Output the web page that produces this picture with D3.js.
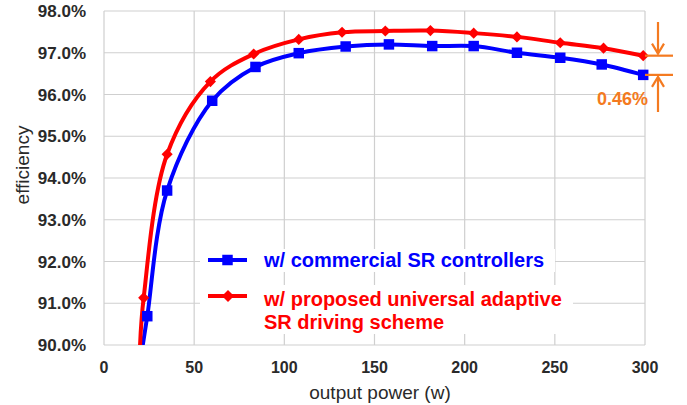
<!DOCTYPE html>
<html>
<head>
<meta charset="utf-8">
<script src="https://cdn.jsdelivr.net/npm/d3@7"></script>
<style>
  body { margin: 0; background: #fff; }
  svg { display: block; font-family: "Liberation Sans", Arial, sans-serif; }
</style>
</head>
<body>
<svg id="chart" width="687" height="405"></svg>
<script>
var width = 687,
   height = 405;

// data (first entry of each series is where the curve leaves the bottom edge)
var bluePower = [21.5, 24, 35, 60, 84, 108, 134, 158, 182, 205, 229, 253, 276, 299];
var blueEff = [90.0, 90.69, 93.7, 95.85, 96.66, 96.99, 97.15, 97.2, 97.16, 97.16, 97.0, 96.88, 96.72, 96.47];
var redPower = [20, 22, 35, 59, 83, 108, 132, 156, 181, 205, 229, 253, 277, 299];
var redEff = [90.0, 91.13, 94.57, 96.31, 96.97, 97.32, 97.49, 97.52, 97.53, 97.47, 97.38, 97.24, 97.11, 96.93];

var xTicks = [0, 50, 100, 150, 200, 250, 300];
var yTicks = [90, 91, 92, 93, 94, 95, 96, 97, 98];

var blueLabel = ["w/ commercial SR controllers"];
var redLabel = ["w/ proposed universal adaptive", "SR driving scheme"];
var gapLabel = "0.46%";

var orange = "#f47a20";

//Scales
var x = d3.scaleLinear().domain([0, 300]).range([104, 645]);
var y = d3.scaleLinear().domain([90, 98]).range([345, 11]);

var svg = d3.select("svg#chart");

svg.append("defs")
   .append("clipPath")
   .attr("id", "plotclip")
   .append("rect")
   .attr("x", x(0))
   .attr("y", y(98) - 10)
   .attr("width", x(300) - x(0) + 10)
   .attr("height", y(90) - y(98) + 10);

//Grid
svg.selectAll("line.hgrid")
   .data(yTicks)
   .enter()
   .append("line")
   .attr("class", "hgrid")
   .attr("x1", x(0))
   .attr("x2", x(300))
   .attr("y1", (d) => y(d))
   .attr("y2", (d) => y(d))
   .attr("stroke", "#cfcfcf")
   .attr("stroke-width", 1.2);

svg.selectAll("line.vgrid")
   .data(xTicks)
   .enter()
   .append("line")
   .attr("class", "vgrid")
   .attr("x1", (d) => x(d))
   .attr("x2", (d) => x(d))
   .attr("y1", y(98))
   .attr("y2", y(90))
   .attr("stroke", "#cfcfcf")
   .attr("stroke-width", 1.2);

//Tick labels
svg.selectAll("text.ytick")
   .data(yTicks)
   .enter()
   .append("text")
   .attr("class", "ytick")
   .attr("x", 86)
   .attr("y", (d) => y(d))
   .attr("dy", "0.36em")
   .attr("text-anchor", "end")
   .attr("font-size", 17)
   .attr("font-weight", "bold")
   .attr("fill", "#2a2a2a")
   .text((d) => d.toFixed(1) + "%");

svg.selectAll("text.xtick")
   .data(xTicks)
   .enter()
   .append("text")
   .attr("class", "xtick")
   .attr("x", (d) => x(d))
   .attr("y", 367)
   .attr("dy", "0.36em")
   .attr("text-anchor", "middle")
   .attr("font-size", 16)
   .attr("font-weight", "bold")
   .attr("fill", "#2a2a2a")
   .text((d) => d);

//Axis titles
svg.append("text")
   .attr("x", 380)
   .attr("y", 392)
   .attr("dy", "0.36em")
   .attr("text-anchor", "middle")
   .attr("font-size", 19)
   .attr("fill", "#2a2a2a")
   .text("output power (w)");

svg.append("text")
   .attr("transform", "translate(22,165) rotate(-90)")
   .attr("dy", "0.36em")
   .attr("text-anchor", "middle")
   .attr("font-size", 19)
   .attr("fill", "#2a2a2a")
   .text("efficiency");

//Series
var line = d3
   .line()
   .x((d) => x(d[0]))
   .y((d) => y(d[1]))
   .curve(d3.curveCatmullRom.alpha(0.5));

var blueData = bluePower.map((p, i) => [p, blueEff[i]]);
var redData = redPower.map((p, i) => [p, redEff[i]]);

var plot = svg.append("g").attr("clip-path", "url(#plotclip)");

plot.append("path")
   .datum(blueData)
   .attr("d", line)
   .attr("fill", "none")
   .attr("stroke", "#0000ff")
   .attr("stroke-width", 4);

plot.append("path")
   .datum(redData)
   .attr("d", line)
   .attr("fill", "none")
   .attr("stroke", "#ff0000")
   .attr("stroke-width", 4);

var square = d3.symbol().type(d3.symbolSquare).size(110);
// diamond = square turned 45 degrees
var diamond = d3.symbol().type(d3.symbolSquare).size(62);

plot.selectAll("path.bmark")
   .data(blueData.filter((d) => d[1] > 90))
   .enter()
   .append("path")
   .attr("class", "bmark")
   .attr("d", square)
   .attr("transform", (d) => "translate(" + x(d[0]) + "," + y(d[1]) + ")")
   .attr("fill", "#0000ff");

plot.selectAll("path.rmark")
   .data(redData.filter((d) => d[1] > 90))
   .enter()
   .append("path")
   .attr("class", "rmark")
   .attr("d", diamond)
   .attr("transform", (d) => "translate(" + x(d[0]) + "," + y(d[1]) + ") rotate(45)")
   .attr("fill", "#ff0000");

//Legend
var legend = svg.append("g");
legend.append("rect")
   .attr("x", 200).attr("y", 249).attr("width", 355).attr("height", 23)
   .attr("fill", "#fff");
legend.append("rect")
   .attr("x", 200).attr("y", 285).attr("width", 373).attr("height", 49)
   .attr("fill", "#fff");

legend.append("line")
   .attr("x1", 208).attr("x2", 247).attr("y1", 260).attr("y2", 260)
   .attr("stroke", "#0000ff").attr("stroke-width", 4);
legend.append("path")
   .attr("d", square)
   .attr("transform", "translate(227.5,260)")
   .attr("fill", "#0000ff");
legend.append("text")
   .attr("x", 264).attr("y", 260).attr("dy", "0.36em")
   .attr("font-size", 20).attr("font-weight", "bold")
   .attr("fill", "#0000ff")
   .text(blueLabel[0]);

legend.append("line")
   .attr("x1", 208).attr("x2", 247).attr("y1", 296).attr("y2", 296)
   .attr("stroke", "#ff0000").attr("stroke-width", 4);
legend.append("path")
   .attr("d", d3.symbol().type(d3.symbolSquare).size(72))
   .attr("transform", "translate(228,296) rotate(45)")
   .attr("fill", "#ff0000");
legend.selectAll("text.rl")
   .data(redLabel)
   .enter()
   .append("text")
   .attr("class", "rl")
   .attr("x", 264)
   .attr("y", (d, i) => 299 + i * 23)
   .attr("dy", "0.36em")
   .attr("font-size", 20).attr("font-weight", "bold")
   .attr("fill", "#ff0000")
   .text((d) => d);

//Gap annotation
var redEnd = y(redEff[redEff.length - 1]),
   blueEnd = y(blueEff[blueEff.length - 1]),
   ax = x(300) + 13;
var note = svg.append("g")
   .attr("stroke", orange)
   .attr("stroke-width", 2.2)
   .attr("fill", "none");
[redEnd, blueEnd].forEach(function (yy) {
   note.append("line")
      .attr("x1", x(300)).attr("x2", x(300) + 28)
      .attr("y1", yy).attr("y2", yy);
});
note.append("line").attr("x1", ax).attr("x2", ax).attr("y1", 22).attr("y2", redEnd - 2);
note.append("path").attr("d", "M" + (ax - 6) + "," + (redEnd - 12) + "L" + ax + "," + (redEnd - 2) + "L" + (ax + 6) + "," + (redEnd - 12));
note.append("line").attr("x1", ax).attr("x2", ax).attr("y1", 112).attr("y2", blueEnd + 2);
note.append("path").attr("d", "M" + (ax - 6) + "," + (blueEnd + 12) + "L" + ax + "," + (blueEnd + 2) + "L" + (ax + 6) + "," + (blueEnd + 12));

svg.append("text")
   .attr("x", 648)
   .attr("y", 99)
   .attr("dy", "0.36em")
   .attr("text-anchor", "end")
   .attr("font-size", 18)
   .attr("font-weight", "bold")
   .attr("fill", orange)
   .text(gapLabel);
</script>
</body>
</html>
